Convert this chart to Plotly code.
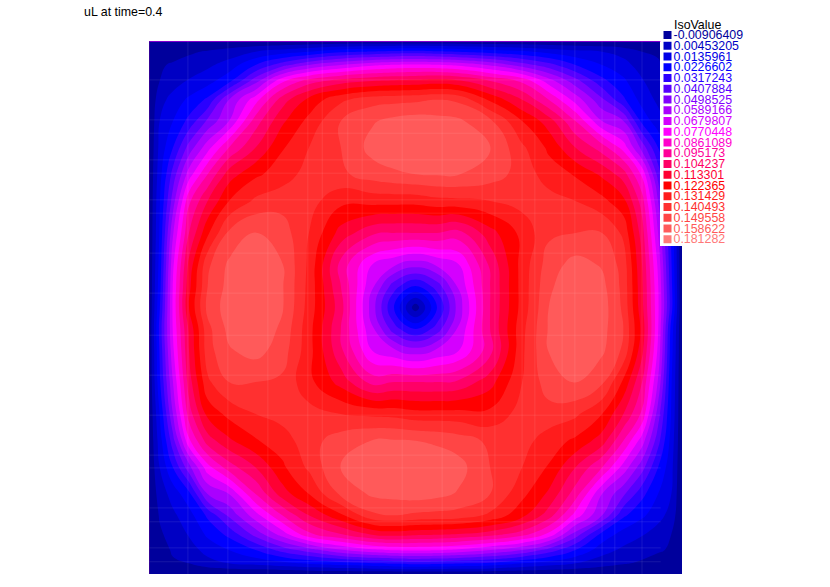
import plotly.graph_objects as go
import numpy as np

# legend of the iso lines
iso_values = ["-0.00906409", "0.00453205", "0.0135961", "0.0226602", "0.0317243",
              "0.0407884", "0.0498525", "0.0589166", "0.0679807", "0.0770448",
              "0.0861089", "0.095173", "0.104237", "0.113301", "0.122365",
              "0.131429", "0.140493", "0.149558", "0.158622", "0.181282"]
iso_colors = ["#00009c", "#0000c4", "#0000e6", "#0000ff", "#2a00ff",
              "#5500ff", "#8000ff", "#aa00ff", "#d400ff", "#ff00ff",
              "#ff00cc", "#ff0099", "#ff0066", "#ff0033", "#ff0000",
              "#ff1c1c", "#ff3030", "#ff4545", "#ff5a5a", "#ff7878"]
iso_step = 0.0090641

# mesh sample positions on the unit square
grid_x = [0, .02, .045, .075, .11, .15, .2, .25, .3, .36, .42, .46, .5,
          .54, .58, .64, .7, .75, .8, .85, .89, .925, .955, .98, 1]
grid_y = [0, .02, .045, .075, .11, .15, .2, .25, .3, .36, .42, .46, .5,
          .54, .58, .64, .7, .75, .8, .85, .89, .925, .955, .98, 1]

# uL, in units of one iso step, top row first
uL_steps = [
    [-1, -1, -1, -1, -1, -1, -1, -1, -1, -1, -1, -1, -1, -1, -1, -1, -1, -1, -1, -1, -1, -1, -1, -1, -1],
    [-1, -.5, -.35, -.15, .1, .45, 1, 1.5, 2, 2.8, 3.1, 3.3, 3.4, 3.2, 3, 2.6, 2.2, 1.7, 1.3, 1, .6, 0, -.1, -.5, -1],
    [-1, -.1, .1, .4, .8, 1.4, 3, 4.6, 6, 7, 7.8, 8.1, 8.2, 8.1, 7.8, 6.9, 5.5, 4.4, 3, 2, 1.4, .5, .1, -.35, -1],
    [-1, 0, .5, 1.1, 1.6, 2.7, 5.6, 8.8, 10.5, 11.5, 12, 12.2, 12.3, 12.5, 12.2, 11, 9.8, 7.5, 5.4, 3.3, 2.2, 1.1, .4, -.15, -1],
    [-1, .6, 1.4, 2.2, 3.2, 6, 8.6, 11.5, 13.3, 14.8, 15.6, 15.7, 15.8, 16, 15.8, 13.8, 12, 10, 7.6, 5.2, 3.2, 1.6, .8, .1, -1],
    [-1, 1, 2, 3.3, 5.2, 7, 10.5, 12.8, 14.3, 16, 16.9, 17.3, 17.5, 17.35, 17.2, 16.2, 14, 12.5, 10, 7, 6, 2.7, 1.4, .45, -1],
    [-1, 1.3, 3, 5.4, 7.6, 10, 12, 13.9, 15, 16, 17.4, 17.8, 17.9, 17.8, 17.7, 17.1, 15.2, 13.8, 12, 10.5, 8.6, 5.6, 3, 1, -1],
    [-1, 1.6, 4.4, 7.5, 10, 12.5, 13.8, 14.5, 15.4, 15.8, 16.5, 16.8, 17, 17.1, 17.05, 16.5, 15.6, 14.5, 13.9, 12.8, 11.5, 8.8, 4.6, 1.5, -1],
    [-1, 1.9, 5.5, 9.8, 12, 14, 15.2, 15.6, 15.4, 14.3, 14.4, 14.4, 14.4, 14.7, 14.8, 15, 15.4, 15.4, 15, 14.3, 13.3, 10.5, 6, 2, -1],
    [-1, 2.1, 6.9, 11, 13.8, 16.2, 17.1, 16.5, 15, 12.6, 11.2, 11, 11, 11, 10.6, 12.6, 14.3, 15.8, 16, 16, 14.8, 11.5, 7, 2.8, -1],
    [-1, 2.4, 7.8, 12.3, 15.8, 17.2, 17.7, 17.05, 14.8, 10.6, 7.9, 7.1, 6.4, 7.1, 7.9, 11.2, 14.4, 16.5, 17.4, 16.9, 15.6, 12, 7.8, 3.1, -1],
    [-1, 2.6, 8.1, 12.7, 16, 17.35, 17.8, 17.1, 14.7, 11, 7.1, 4.4, 2.9, 4.4, 7.1, 11, 14.4, 16.8, 17.8, 17.3, 15.7, 12.2, 8.1, 3.3, -1],
    [-1, 2.9, 8.2, 13, 16.3, 17.5, 17.9, 17.1, 14.6, 11.4, 6.4, 2.9, -.6, 2.9, 6.4, 11, 14.4, 17, 17.9, 17.5, 15.8, 12.3, 8.2, 3.4, -1],
    [-1, 3.3, 8.1, 12.2, 15.7, 17.3, 17.8, 16.8, 14.4, 11, 7.1, 4.4, 2.9, 4.4, 7.1, 11, 14.7, 17.1, 17.8, 17.35, 16, 12.7, 8.1, 2.6, -1],
    [-1, 3.1, 7.8, 12, 15.6, 16.9, 17.4, 16.5, 14.4, 11.2, 7.9, 7.1, 6.4, 7.1, 7.9, 10.6, 14.8, 17.05, 17.7, 17.2, 15.8, 12.3, 7.8, 2.4, -1],
    [-1, 2.8, 7, 11.5, 14.8, 16, 16, 15.8, 14.3, 12.6, 10.6, 11, 11, 11, 11.2, 12.6, 15, 16.5, 17.1, 16.2, 13.8, 11, 6.9, 2.1, -1],
    [-1, 2, 6, 10.5, 13.3, 14.3, 15, 15.4, 15.4, 15, 14.8, 14.7, 14.4, 14.4, 14.4, 14.3, 15.4, 15.6, 15.2, 14, 12, 9.8, 5.5, 1.9, -1],
    [-1, 1.5, 4.6, 8.8, 11.5, 12.8, 13.9, 14.5, 15.6, 16.5, 17.05, 17.1, 17, 16.8, 16.5, 15.8, 15.4, 14.5, 13.8, 12.5, 10, 7.5, 4.4, 1.6, -1],
    [-1, 1, 3, 5.6, 8.6, 10.5, 12, 13.8, 15.2, 17.1, 17.7, 17.8, 17.9, 17.8, 17.4, 16, 15, 13.9, 12, 10, 7.6, 5.4, 3, 1.3, -1],
    [-1, .45, 1.4, 2.7, 6, 7, 10, 12.5, 14, 16.2, 17.2, 17.35, 17.5, 17.3, 16.9, 16, 14.3, 12.8, 10.5, 7, 5.2, 3.3, 2, 1, -1],
    [-1, .1, .8, 1.6, 3.2, 5.2, 7.6, 10, 12, 13.8, 15.8, 16, 15.8, 15.7, 15.6, 14.8, 13.3, 11.5, 8.6, 6, 3.2, 2.2, 1.4, .6, -1],
    [-1, -.15, .4, 1.1, 2.2, 3.3, 5.4, 7.5, 9.8, 11, 12.2, 12.5, 12.3, 12.2, 12, 11.5, 10.5, 8.8, 5.6, 2.7, 1.6, 1.1, .5, 0, -1],
    [-1, -.35, .1, .5, 1.4, 2, 3, 4.4, 5.5, 6.9, 7.8, 8.1, 8.2, 8.1, 7.8, 7, 6, 4.6, 3, 1.4, .8, .4, .1, -.1, -1],
    [-1, -.5, -.1, 0, .6, 1, 1.3, 1.7, 2.2, 2.6, 3, 3.2, 3.4, 3.3, 3.1, 2.8, 2, 1.5, 1, .45, .1, -.15, -.35, -.5, -1],
    [-1, -1, -1, -1, -1, -1, -1, -1, -1, -1, -1, -1, -1, -1, -1, -1, -1, -1, -1, -1, -1, -1, -1, -1, -1],
]

# faint mesh lines that show through the fill
mesh_x = [.073, .148, .223, .298, .325, .373, .4, .475, .55, .625, .649, .7, .724, .775, .799, .85, .874, .925]
mesh_y = [.073, .148, .173, .223, .248, .298, .323, .398, .473, .552, .627, .702, .777, .801, .876, .902, .951, .977]

W, H = 830, 587
n_bands = len(iso_colors) - 1

fig = go.Figure()

fig.add_trace(go.Contour(
    x=grid_x, y=grid_y, z=np.array(uL_steps) * iso_step,
    autocontour=False,
    contours=dict(start=0, end=18 * iso_step, size=iso_step, coloring='fill', showlines=False),
    colorscale=[[i / n_bands, c] for i, c in enumerate(iso_colors)],
    line=dict(width=0, smoothing=1.3),
    showscale=False, hoverinfo='skip',
))

# white box behind the legend, then the legend itself, on a pixel overlay
fig.add_trace(go.Scatter(
    x=[660, 690, 690, 660, 660], y=[40, 40, 246, 246, 40],
    xaxis='x2', yaxis='y2', mode='lines', fill='toself',
    fillcolor='white', line=dict(width=0, color='white'), hoverinfo='skip',
))
rows_y = [35 + 10.75 * i for i in range(len(iso_values))]
fig.add_trace(go.Scatter(
    x=[667.5] * len(iso_values), y=rows_y,
    xaxis='x2', yaxis='y2', mode='markers',
    marker=dict(symbol='square', size=8, color=iso_colors),
    hoverinfo='skip',
))
fig.add_trace(go.Scatter(
    x=[673.5] * len(iso_values), y=[v + 1 for v in rows_y],
    xaxis='x2', yaxis='y2', mode='text',
    text=iso_values, textposition='middle right',
    textfont=dict(family='Liberation Sans', size=12.4, color=iso_colors),
    cliponaxis=False, hoverinfo='skip',
))

fig.add_annotation(text="uL at time=0.4", x=81.5, y=12, xref='x2', yref='y2', xanchor='left',
                   showarrow=False, font=dict(family='Liberation Sans', size=12.4, color='black'))
fig.add_annotation(text="IsoValue", x=671.5, y=25, xref='x2', yref='y2', xanchor='left',
                   showarrow=False, font=dict(family='Liberation Sans', size=12.4, color='black'))

for mx in mesh_x:
    fig.add_shape(type='line', x0=mx, x1=mx, y0=0, y1=1, xref='x', yref='y',
                  line=dict(color='rgba(255,255,255,0.09)', width=1))
for my in mesh_y:
    fig.add_shape(type='line', x0=0, x1=.96, y0=my, y1=my, xref='x', yref='y',
                  line=dict(color='rgba(255,255,255,0.09)', width=1))

# outline of the square
fig.add_shape(type='line', x0=0, x1=.96, y0=0, y1=0, xref='x', yref='y', line=dict(color='#ff00ff', width=1))
fig.add_shape(type='line', x0=0, x1=0, y0=0, y1=1, xref='x', yref='y', line=dict(color='#600090', width=1))

fig.update_layout(
    width=W, height=H,
    margin=dict(l=0, r=0, t=0, b=0),
    paper_bgcolor='white', plot_bgcolor='rgba(0,0,0,0)',
    showlegend=False,
    xaxis=dict(domain=[149 / W, 682 / W], range=[0, 1], visible=False),
    yaxis=dict(domain=[1 - 574 / H, 1 - 41 / H], range=[1, 0], visible=False),
    xaxis2=dict(domain=[0, 1], range=[0, W], visible=False, anchor='y2'),
    yaxis2=dict(domain=[0, 1], range=[H, 0], visible=False, anchor='x2'),
)

fig.write_html("out.html", config=dict(displayModeBar=False), post_script="document.body.style.margin='0'")
